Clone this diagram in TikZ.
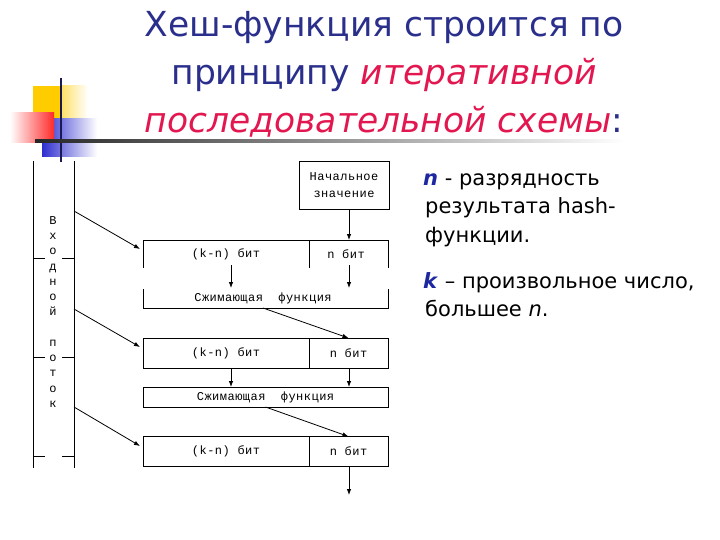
\documentclass[tikz,border=0pt]{standalone}
\usepackage{fontspec}
\setmainfont{DejaVu Sans}
\newfontfamily\boxfont{Liberation Mono}[LetterSpace=4]
\usetikzlibrary{arrows.meta,calc}
\definecolor{titleblue}{HTML}{2B2F8C}
\definecolor{titlered}{HTML}{E3174F}
\definecolor{nblue}{HTML}{1C27A0}
\definecolor{logoyellow}{HTML}{FFCC00}
\definecolor{logored}{HTML}{FF2A2A}
\definecolor{logoblue}{HTML}{2E2ED0}
\definecolor{logoline}{HTML}{1A1A50}
\begin{document}
\begin{tikzpicture}[x=1pt,y=-1pt,
  ln/.style={line width=0.8pt},
  arr/.style={ln,-{Latex[length=6pt,width=4.5pt]}},
  bt/.style={font=\boxfont\fontsize{12}{12}\selectfont, inner sep=0pt},
  cell/.style={draw, ln, bt, outer sep=0pt},
  titletext/.style={anchor=base, inner sep=0pt, text=titleblue, font=\fontsize{34.5}{34.5}\selectfont},
  desc/.style={anchor=base west, inner sep=0pt, font=\fontsize{21}{21}\selectfont}
  ]
\useasboundingbox (0,0) rectangle (720,540);
% logo
\fill[logoyellow] (33,86) rectangle (61,120);
\shade[left color=logoyellow!60, right color=white] (61,86) rectangle (88,120);
\shade[left color=logoblue, middle color=logoblue, right color=white] (42,119) rectangle (97,157);
\shade[left color=white, middle color=logored!60, right color=logored] (10,113) rectangle (54,143);
\draw[logoline, line width=2.5pt] (61,78) -- (61,162);
\shade[left color=black!85, middle color=black!45, right color=white] (35,140) rectangle (625,143);
% title
\node[titletext] (title1) at (384,37) {Хеш-функция строится по};
\node[titletext] (title2) at (384,85) {принципу \textcolor{titlered}{\textit{итеративной}}};
\node[titletext] (title3) at (384,133) {\textcolor{titlered}{\textit{последовательной схемы}}:};
% description
\node[desc] (d1) at (423,186) {\textcolor{nblue}{\textbf{\textit{n}}} - разрядность};
\node[desc] (d2) at (425,214) {результата hash-};
\node[desc] (d3) at (425,242) {функции.};
\node[desc] (d4) at (423,288) {\textcolor{nblue}{\textbf{\textit{k}}} – произвольное число,};
\node[desc] (d5) at (425,316) {большее \textit{n}.};
% input stream
\draw[ln] (33,161) -- (33,468);
\draw[ln] (74,161) -- (74,468);
\foreach \yy in {258,357,456}{
  \draw[ln] (33,\yy) -- (45,\yy);
  \draw[ln] (62,\yy) -- (74,\yy);
}
\node[bt, align=center, font=\boxfont\fontsize{12}{15.25}\selectfont] (stream) at (53,312) {В\\х\\о\\д\\н\\о\\й\\~\\п\\о\\т\\о\\к};
\coordinate (s1) at (74,211);
\coordinate (s2) at (74,309);
\coordinate (s3) at (74,407);
\coordinate (e1) at (140,249);
\coordinate (e2) at (140,347);
\coordinate (e3) at (140,446);
% columns
\coordinate (colk) at (231,0);
\coordinate (coln) at (349,0);
% initial value
\node[draw, ln, bt, minimum width=90pt, minimum height=48pt, align=center, font=\boxfont\fontsize{12}{17}\selectfont] (init) at (344,185) {Начальное\\значение};
% row 1 (open bottom)
\draw[ln] (143,268) -- (143,240) -- (388,240) -- (388,268);
\draw[ln] (309,240) -- (309,268);
\node[bt] (k1) at (226,254) {(k-n) бит};
\node[bt] (n1) at (346,254) {n бит};
\coordinate (r1n) at (349,240);
\coordinate (k1b) at (231,265);
\coordinate (n1b) at (349,265);
% compress 1 (open top)
\draw[ln] (143,289) -- (143,308) -- (388,308) -- (388,289);
\node[bt] (c1) at (263,298) {Сжимающая\ \ функция};
\coordinate (c1tk) at (231,288);
\coordinate (c1tn) at (349,288);
\coordinate (c1b) at (263,308);
% row 2
\node[cell, minimum width=166pt, minimum height=30pt] (k2) at (226,353) {(k-n) бит};
\node[cell, minimum width=79pt, minimum height=30pt] (n2) at (348.5,353) {n бит};
\node[cell, minimum width=245pt, minimum height=20pt] (c2) at (265.5,397) {Сжимающая\ \ функция};
% row 4
\node[cell, minimum width=166pt, minimum height=30pt] (k4) at (226,451.5) {(k-n) бит};
\node[cell, minimum width=79pt, minimum height=30pt] (n4) at (348.5,451.5) {n бит};
\coordinate (out) at (349,495);
% arrows
\draw[arr] (s1) -- (e1);
\draw[arr] (s2) -- (e2);
\draw[arr] (s3) -- (e3);
\draw[arr] (init.south -| r1n) -- (r1n);
\draw[arr] (k1b) -- (c1tk);
\draw[arr] (n1b) -- (c1tn);
\draw[arr] (c1b) -- (n2.north);
\draw[arr] (k2.south -| colk) -- (c2.north -| colk);
\draw[arr] (n2.south -| coln) -- (c2.north -| coln);
\draw[arr] (c2.south) -- (n4.north);
\draw[arr] (n4.south -| coln) -- (out);
\end{tikzpicture}
\end{document}
